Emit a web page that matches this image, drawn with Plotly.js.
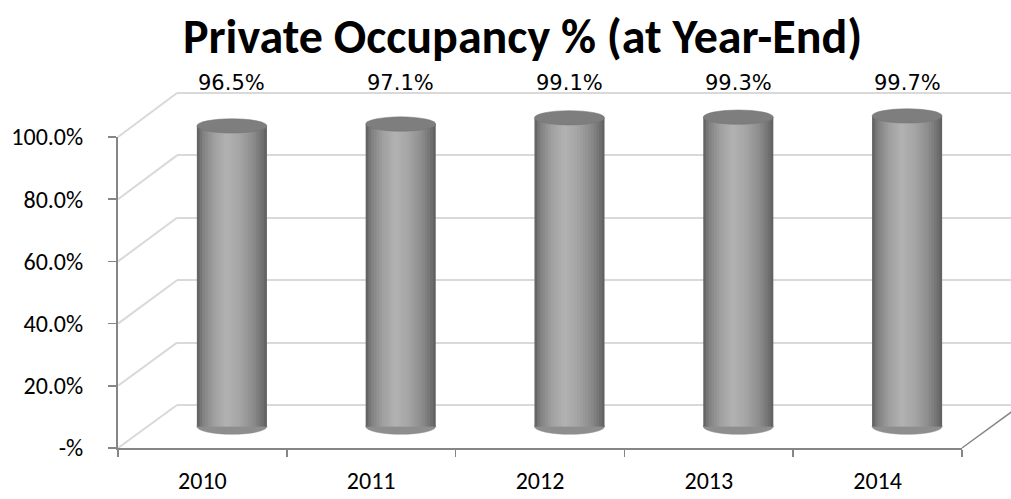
<!DOCTYPE html>
<html>
<head>
<meta charset="utf-8">
<script src="https://cdn.plot.ly/plotly-3.0.1.min.js"></script>
<style>html,body{margin:0;padding:0;background:#fff;}#chart{width:1011px;height:499px;}</style>
</head>
<body>
<div id="chart"></div>
<script>
// ---- data ----
const years = ['2010', '2011', '2012', '2013', '2014'];
const occupancy = [96.5, 97.1, 99.1, 99.3, 99.7];
const valueLabels = ['96.5%', '97.1%', '99.1%', '99.3%', '99.7%'];
const yTickVals = [0, 20, 40, 60, 80, 100];
const yTickText = ['-%', '20.0%', '40.0%', '60.0%', '80.0%', '100.0%'];
const chartTitle = 'Private Occupancy % (at Year-End)';

// ---- layout helpers ----
const W = 1011, H = 499;
const px = x => x / W;
const py = y => 1 - y / H;
const FONT = 'Carlito, Calibri, Lato, "Open Sans", sans-serif';
const LABEL_FONT = '"DejaVu Sans", Verdana, sans-serif';
const GRID = '#d9d9d9';
const AXIS = '#868686';

// domains (front axes, back wall, mid-depth for cylinders)
const frontX = [px(118), px(962)];
const frontY = [py(448), py(137)];
const backRange = [-1, 101];
const backY = [py(405 + 3.12), py(93 - 3.12)];
const backX = [px(177), 1];
const midRange = [-10, 110];
const midY = [py(426.5 + 10 * 3.115), py(426.5 - 110 * 3.115)];
const midX = [px(147.5), px(991.5)];

function paperYFor(v, dom, rng) {
  return dom[0] + (v - rng[0]) / (rng[1] - rng[0]) * (dom[1] - dom[0]);
}

// ---- cylinder shading via thin bar strips ----
const barW = 0.415;
const N = 26;
const keys = [[0, 0x5c], [0.08, 0x80], [0.25, 0xa0], [0.42, 0xb2], [0.6, 0xa6], [0.8, 0x8c], [0.93, 0x72], [1, 0x5e]];
function shade(t) {
  for (let k = 1; k < keys.length; k++) {
    if (t <= keys[k][0]) {
      const a = keys[k - 1], b = keys[k];
      const f = (t - a[0]) / (b[0] - a[0]);
      const c = Math.round(a[1] + (b[1] - a[1]) * f);
      return 'rgb(' + c + ',' + c + ',' + c + ')';
    }
  }
  return 'rgb(94,94,94)';
}

const traces = [];
// back wall subplot (x, y) — invisible placeholder trace
traces.push({x: years, y: years.map(() => null), xaxis: 'x', yaxis: 'y', type: 'scatter', mode: 'markers',
  marker: {opacity: 0}, hoverinfo: 'skip', showlegend: false});
// front axes subplot (x2, y2)
traces.push({x: years, y: years.map(() => null), xaxis: 'x2', yaxis: 'y2', type: 'scatter', mode: 'markers',
  marker: {opacity: 0}, hoverinfo: 'skip', showlegend: false});
// cylinders (x3, y3)
for (let i = 0; i < N; i++) {
  const step = barW / N;
  const t = (i + 0.5) / N;
  traces.push({
    type: 'bar', x: years, y: occupancy, xaxis: 'x3', yaxis: 'y3',
    offset: -barW / 2 + i * step,
    width: i === N - 1 ? step : step * 1.6,
    marker: {color: shade(t), line: {width: 0}},
    hoverinfo: 'skip', showlegend: false
  });
}

const shapes = [];
// left wall slanted gridlines
yTickVals.forEach(v => {
  shapes.push({type: 'line', xref: 'paper', yref: 'paper', layer: 'below',
    x0: frontX[0], y0: paperYFor(v, frontY, [0, 100]),
    x1: backX[0], y1: paperYFor(v, backY, backRange),
    line: {color: GRID, width: 2}});
});
// right floor edge
shapes.push({type: 'line', xref: 'paper', yref: 'paper', layer: 'below',
  x0: frontX[1], y0: frontY[0], x1: px(962 + 59), y1: py(448 - 43),
  line: {color: AXIS, width: 1.5}});
// cylinder caps and bases
occupancy.forEach((v, i) => {
  shapes.push({type: 'circle', xref: 'x3', yref: 'y3', layer: 'below',
    x0: i - barW / 2, x1: i + barW / 2, y0: -2.5, y1: 2.5,
    fillcolor: '#8e8e8e', line: {color: '#8a8a8a', width: 0.5}});
  shapes.push({type: 'circle', xref: 'x3', yref: 'y3', layer: 'above',
    x0: i - barW / 2, x1: i + barW / 2, y0: v - 2.3, y1: v + 2.3,
    fillcolor: '#7e7e7e', line: {color: '#747474', width: 0.5}});
});

const annotations = [{
  text: chartTitle, xref: 'paper', yref: 'paper', x: px(522), y: py(37),
  xanchor: 'center', yanchor: 'middle', showarrow: false,
  font: {family: FONT, size: 48, color: '#000', weight: 'bold'}
}];
valueLabels.forEach((lab, i) => {
  annotations.push({text: lab, xref: 'x3', yref: 'paper', x: i, y: py(83),
    xanchor: 'center', yanchor: 'middle', showarrow: false,
    font: {family: LABEL_FONT, size: 21, color: '#000'}});
});

const layout = {
  width: W, height: H,
  margin: {l: 0, r: 0, t: 0, b: 0},
  paper_bgcolor: '#fff', plot_bgcolor: 'rgba(0,0,0,0)',
  showlegend: false, barmode: 'overlay',
  font: {family: FONT, size: 24, color: '#000'},
  xaxis: {domain: backX, anchor: 'y', type: 'category', range: [-0.5, 4.5],
    categoryorder: 'array', categoryarray: years,
    showgrid: false, showticklabels: false, showline: false, zeroline: false, ticks: ''},
  yaxis: {domain: backY, anchor: 'x', range: backRange, tickvals: yTickVals,
    showgrid: true, gridcolor: GRID, gridwidth: 2, zeroline: false,
    showticklabels: false, ticks: '', showline: false},
  xaxis2: {domain: frontX, anchor: 'y2', type: 'category', range: [-0.5, 4.5],
    categoryorder: 'array', categoryarray: years,
    showgrid: false, zeroline: false, showline: true, linecolor: AXIS, linewidth: 2,
    ticks: 'outside', tickson: 'boundaries', ticklen: 7, tickcolor: AXIS, tickwidth: 1.5,
    ticklabelstandoff: 10, tickfont: {family: FONT, size: 24, color: '#000'}},
  yaxis2: {domain: frontY, anchor: 'x2', range: [0, 100], tickvals: yTickVals, ticktext: yTickText,
    showgrid: false, zeroline: false, showline: true, linecolor: AXIS, linewidth: 2,
    ticks: 'outside', ticklen: 8, tickcolor: AXIS, tickwidth: 1.5,
    ticklabelstandoff: 20, tickfont: {family: FONT, size: 24, color: '#000'}},
  xaxis3: {domain: midX, anchor: 'y3', type: 'category', range: [-0.5, 4.5],
    categoryorder: 'array', categoryarray: years, visible: false},
  yaxis3: {domain: midY, anchor: 'x3', range: midRange, visible: false},
  shapes: shapes,
  annotations: annotations
};

Plotly.newPlot('chart', traces, layout, {staticPlot: true, displayModeBar: false});
</script>
</body>
</html>
